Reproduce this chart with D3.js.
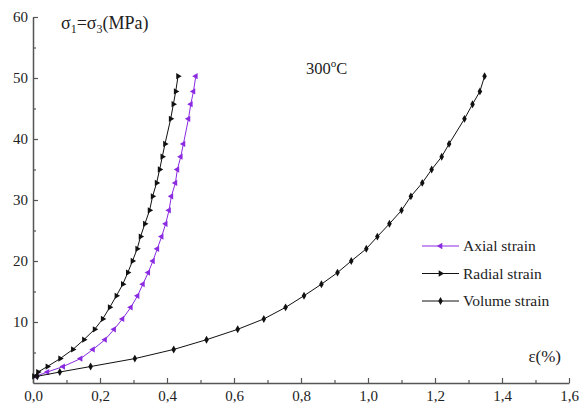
<!doctype html>
<html>
<head>
<meta charset="utf-8">
<style>
body { margin:0; background:white; }
text { font-family: "Liberation Serif", "Times New Roman", serif; fill:#222; }
</style>
<script src="https://cdnjs.cloudflare.com/ajax/libs/d3/7.8.5/d3.min.js"></script>
</head>
<body>
<div id="chart"></div>
<script>
// stress levels (MPa) shared by the three curves
var stress = [1.1, 1.8, 2.7, 4.0, 5.5, 7.1, 8.8, 10.5, 12.4, 14.3, 16.2, 18.1, 20.0, 22.0, 24.0, 26.1, 28.3, 30.6, 32.8, 35.0, 37.1, 39.2, 43.3, 45.7, 47.8, 50.3];
// strains (%)
var axial  = [0.008, 0.043, 0.090, 0.142, 0.179, 0.215, 0.242, 0.267, 0.292, 0.312, 0.328, 0.344, 0.358, 0.371, 0.384, 0.396, 0.406, 0.413, 0.425, 0.431, 0.441, 0.449, 0.464, 0.471, 0.479, 0.486];
var radial = [0.003, 0.015, 0.043, 0.081, 0.119, 0.152, 0.184, 0.208, 0.229, 0.249, 0.268, 0.283, 0.297, 0.311, 0.321, 0.334, 0.348, 0.357, 0.369, 0.378, 0.386, 0.394, 0.411, 0.419, 0.426, 0.433];
var volume = [0.013, 0.080, 0.172, 0.304, 0.420, 0.518, 0.611, 0.689, 0.754, 0.809, 0.861, 0.909, 0.950, 0.995, 1.028, 1.064, 1.100, 1.128, 1.162, 1.190, 1.220, 1.242, 1.288, 1.312, 1.334, 1.348];

var xTicks = [0, 0.2, 0.4, 0.6, 0.8, 1.0, 1.2, 1.4, 1.6];
var yTicks = [10, 20, 30, 40, 50, 60];
var seriesNames = ["Axial strain", "Radial strain", "Volume strain"];

var width = 582, height = 411;
var svg = d3.select("#chart").append("svg")
  .attr("width", width).attr("height", height);

var x = d3.scaleLinear().domain([0, 1.6]).range([33, 569]);
var y = d3.scaleLinear().domain([0, 60]).range([383, 17]);

var fmt = function(d) { return d3.format(".1f")(d).replace(".", ","); };

// minor ticks
svg.append("g").attr("transform", "translate(0,383)")
  .call(d3.axisBottom(x).tickValues(d3.range(1, 16, 2).map(function(i){ return i / 10; }))
    .tickSize(-3).tickFormat(""))
  .call(function(g){ g.select(".domain").remove(); });
svg.append("g").attr("transform", "translate(33,0)")
  .call(d3.axisLeft(y).tickValues([5, 15, 25, 35, 45, 55]).tickSize(-3).tickFormat(""))
  .call(function(g){ g.select(".domain").remove(); });

var xAxis = svg.append("g").attr("transform", "translate(0,383)")
  .call(d3.axisBottom(x).tickValues(xTicks).tickSizeInner(-5).tickSizeOuter(0).tickPadding(7).tickFormat(fmt));
var yAxis = svg.append("g").attr("transform", "translate(33,0)")
  .call(d3.axisLeft(y).tickValues(yTicks).tickSizeInner(-5).tickSizeOuter(0).tickPadding(5));

svg.selectAll(".tick line").attr("stroke", "#555").attr("stroke-width", 1.2);
svg.selectAll(".domain").attr("stroke", "#555").attr("stroke-width", 1.5);
svg.selectAll(".tick text").attr("font-size", 15).attr("font-family", "Liberation Serif").attr("fill", "#222");

var series = [
  { name: seriesNames[0], vals: axial,  color: "#8a2be2", sym: d3.symbolTriangle, rot: -90, size: 17 },
  { name: seriesNames[1], vals: radial, color: "#111",    sym: d3.symbolTriangle, rot: 90,  size: 17 },
  { name: seriesNames[2], vals: volume, color: "#111",    sym: d3.symbolDiamond,  rot: 0,   size: 18 }
];

var line = d3.line()
  .x(function(d){ return x(d[0]); })
  .y(function(d){ return y(d[1]); });

series.forEach(function(s) {
  var pts = s.vals.map(function(v, i){ return [v, stress[i]]; });
  svg.append("path").datum(pts)
    .attr("fill", "none").attr("stroke", s.color).attr("stroke-width", 1)
    .attr("d", line);
  svg.selectAll(null).data(pts).enter().append("path")
    .attr("d", d3.symbol().type(s.sym).size(s.size))
    .attr("fill", s.color)
    .attr("transform", function(d){ return "translate(" + x(d[0]) + "," + y(d[1]) + ") rotate(" + s.rot + ")"; });
});

// legend
var legend = svg.append("g");
series.forEach(function(s, i) {
  var ly = 246 + i * 27.5;
  legend.append("line").attr("x1", 422).attr("x2", 459).attr("y1", ly).attr("y2", ly)
    .attr("stroke", s.color).attr("stroke-width", 1);
  legend.append("path").attr("d", d3.symbol().type(s.sym).size(s.size))
    .attr("fill", s.color)
    .attr("transform", "translate(440.5," + ly + ") rotate(" + s.rot + ")");
  legend.append("text").attr("x", 463).attr("y", ly + 5).attr("font-size", 15.5).text(s.name);
});

// axis titles and annotation
var yt = svg.append("text").attr("x", 61).attr("y", 29).attr("font-size", 18);
yt.append("tspan").text("σ");
yt.append("tspan").attr("font-size", 12).attr("dy", 4).text("1");
yt.append("tspan").attr("dy", -4).text("=σ");
yt.append("tspan").attr("font-size", 12).attr("dy", 4).text("3");
yt.append("tspan").attr("dy", -4).text("(MPa)");

svg.append("text").attr("x", 561).attr("y", 362).attr("text-anchor", "end")
  .attr("font-size", 17).text("ε(%)");

var ann = svg.append("text").attr("x", 306).attr("y", 74).attr("font-size", 16.5);
ann.append("tspan").text("300");
ann.append("tspan").attr("font-size", 11).attr("dy", -7).text("o");
ann.append("tspan").attr("dy", 7).text("C");
</script>
</body>
</html>
